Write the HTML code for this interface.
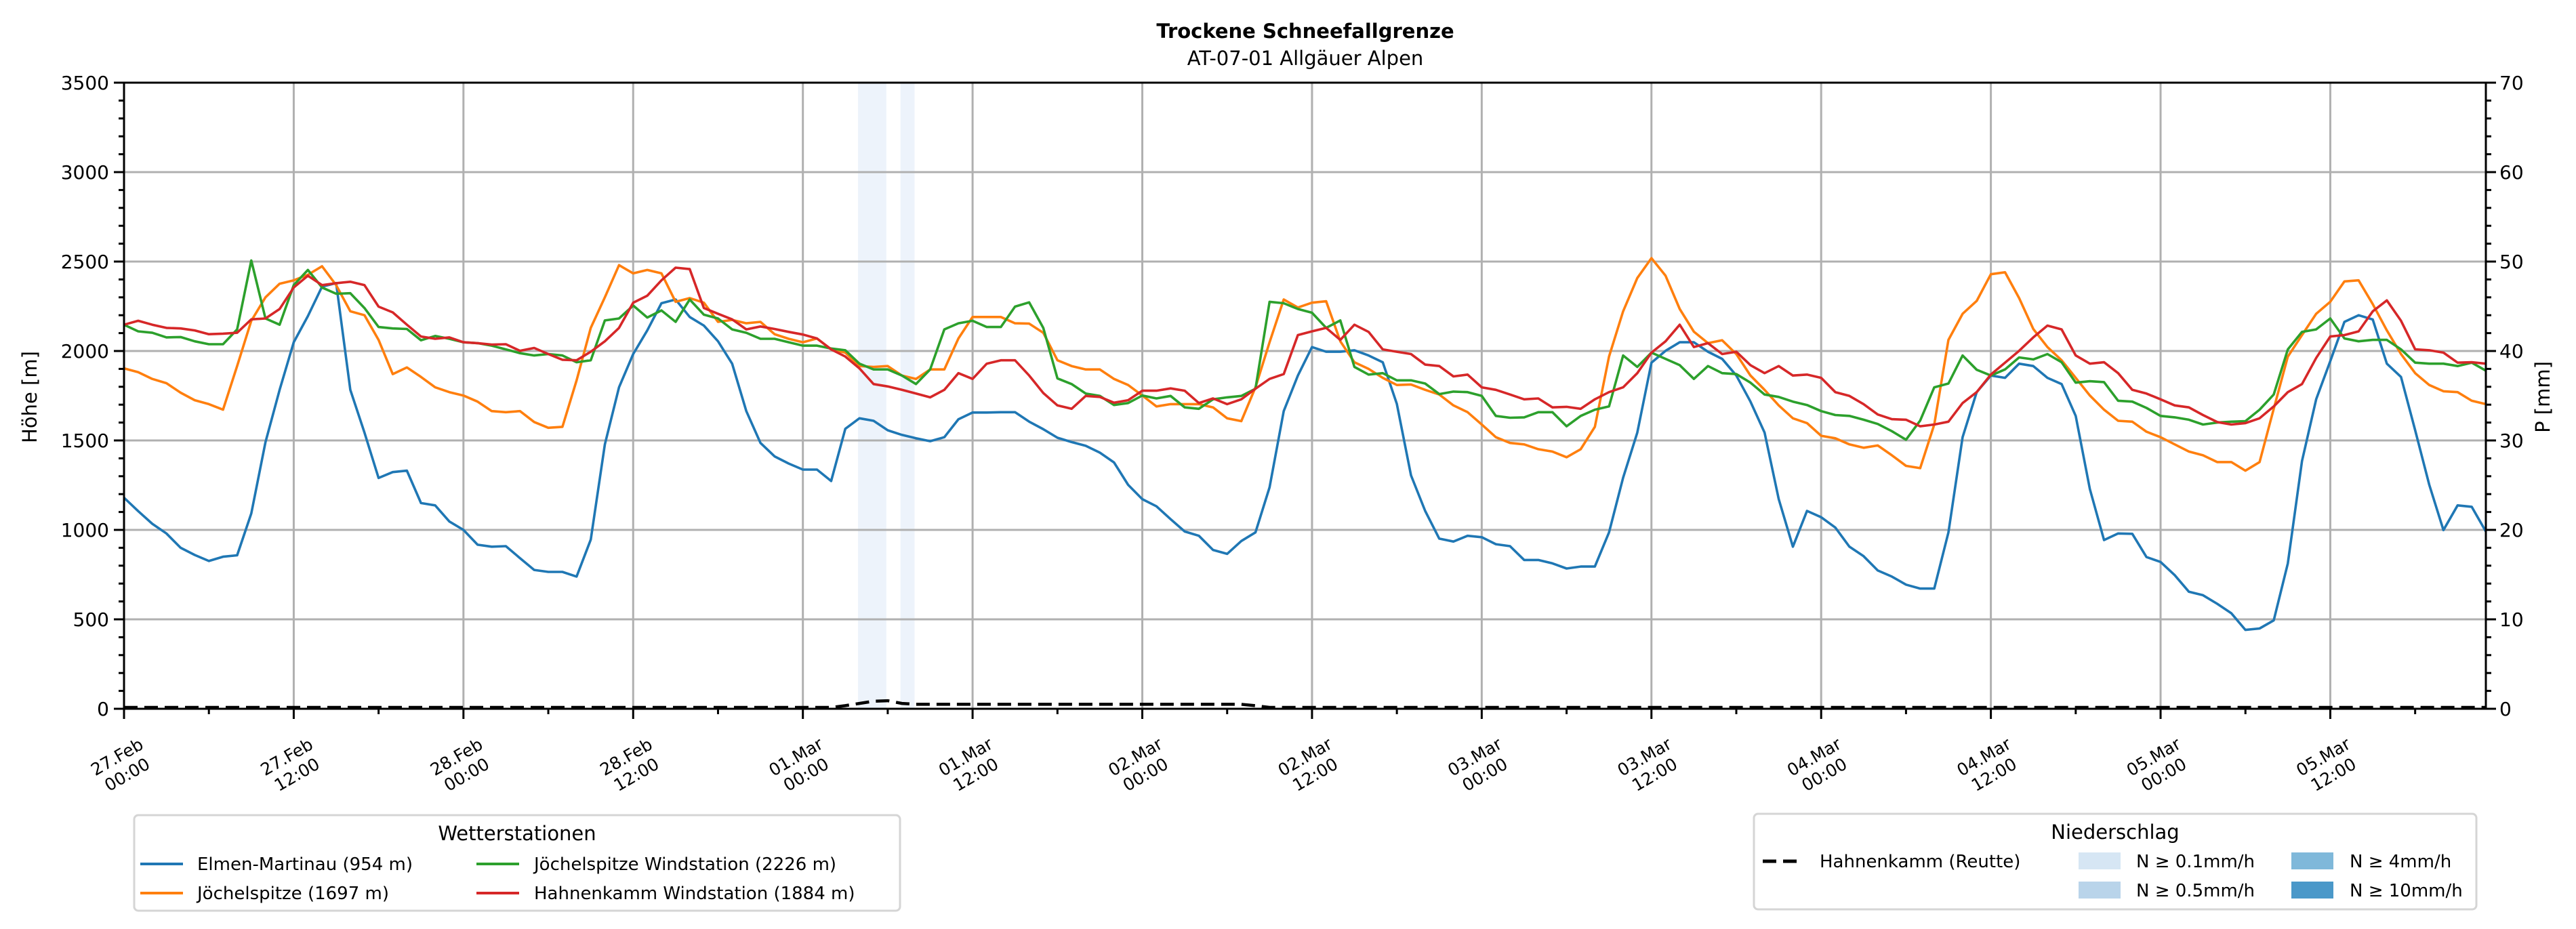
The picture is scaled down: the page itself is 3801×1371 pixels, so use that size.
<!DOCTYPE html>
<html><head><meta charset="utf-8">
<style>
html,body{margin:0;padding:0;background:#fff;}
svg{display:block;font-family:"DejaVu Sans","Liberation Sans",sans-serif;}
</style></head>
<body>
<svg id="chart" xmlns="http://www.w3.org/2000/svg" width="3801" height="1371" viewBox="0 0 3801 1371">
<rect x="0" y="0" width="3801" height="1371" fill="#fff"/>
<text x="1926" y="56" text-anchor="middle" font-size="29" font-weight="bold">Trockene Schneefallgrenze</text>
<text x="1926" y="96" text-anchor="middle" font-size="29">AT-07-01 Allgäuer Alpen</text>
<g id="shades"></g>
<g id="grid"></g>
<g id="series"></g>
<g id="axes"></g>
<text transform="translate(46,586) rotate(-90)" text-anchor="middle" font-size="29" dominant-baseline="middle">Höhe [m]</text>
<text transform="translate(3754,586) rotate(-90)" text-anchor="middle" font-size="29" dominant-baseline="middle">P [mm]</text>

<g>
<rect x="198" y="1203" width="1130" height="141" rx="6" fill="#fff" stroke="#d5d5d5" stroke-width="3"/>
<text x="763" y="1240" text-anchor="middle" font-size="29">Wetterstationen</text>
<line x1="207" y1="1275" x2="270" y2="1275" stroke="#1f77b4" stroke-width="4"/>
<text x="291" y="1284" font-size="26">Elmen-Martinau (954 m)</text>
<line x1="207" y1="1318" x2="270" y2="1318" stroke="#ff7f0e" stroke-width="4"/>
<text x="291" y="1327" font-size="26">Jöchelspitze (1697 m)</text>
<line x1="703" y1="1275" x2="766" y2="1275" stroke="#2ca02c" stroke-width="4"/>
<text x="788" y="1284" font-size="26">Jöchelspitze Windstation (2226 m)</text>
<line x1="703" y1="1318" x2="766" y2="1318" stroke="#d62728" stroke-width="4"/>
<text x="788" y="1327" font-size="26">Hahnenkamm Windstation (1884 m)</text>
</g>

<g>
<rect x="2588" y="1201" width="1066" height="141" rx="6" fill="#fff" stroke="#d5d5d5" stroke-width="3"/>
<text x="3121" y="1238" text-anchor="middle" font-size="29">Niederschlag</text>
<line x1="2601" y1="1271" x2="2657" y2="1271" stroke="#000" stroke-width="5" stroke-dasharray="20,10"/>
<text x="2685" y="1280" font-size="26">Hahnenkamm (Reutte)</text>
<rect x="3067" y="1258" width="62" height="25" fill="#d6e6f4"/>
<text x="3152" y="1280" font-size="26">N ≥ 0.1mm/h</text>
<rect x="3067" y="1301" width="62" height="25" fill="#b9d4ea"/>
<text x="3152" y="1323" font-size="26">N ≥ 0.5mm/h</text>
<rect x="3381" y="1258" width="62" height="25" fill="#7fb8da"/>
<text x="3467" y="1280" font-size="26">N ≥ 4mm/h</text>
<rect x="3381" y="1301" width="62" height="25" fill="#4a98c9"/>
<text x="3467" y="1323" font-size="26">N ≥ 10mm/h</text>
</g>
</svg>
<script>
const xTickLabels = ["27.Feb|00:00","27.Feb|12:00","28.Feb|00:00","28.Feb|12:00","01.Mar|00:00","01.Mar|12:00","02.Mar|00:00","02.Mar|12:00","03.Mar|00:00","03.Mar|12:00","04.Mar|00:00","04.Mar|12:00","05.Mar|00:00","05.Mar|12:00"];
const yTicks = [0,500,1000,1500,2000,2500,3000,3500];
const y2Ticks = [0,10,20,30,40,50,60,70];
const elmen = [1180,1105,1034,980,900,860,826,850,858,1092,
1490,1783,2049,2195,2360,2380,1783,1544,1290,1323,
1331,1150,1137,1047,1000,917,906,909,842,776,
765,765,739,946,1478,1797,1983,2115,2267,2288,
2190,2142,2054,1929,1664,1486,1411,1371,1337,1337,
1273,1565,1624,1610,1557,1531,1512,1496,1518,1618,
1656,1656,1658,1658,1605,1563,1515,1491,1470,1432,
1377,1252,1172,1132,1060,991,967,888,866,938,
986,1238,1664,1863,2022,1996,1996,2004,1975,1937,
1704,1305,1106,951,935,967,959,920,909,832,
832,813,784,795,795,986,1292,1544,1935,2001,
2049,2049,1996,1956,1863,1717,1544,1172,906,1106,
1071,1013,906,853,773,739,694,672,672,986,
1518,1770,1863,1850,1929,1916,1850,1815,1637,1228,
943,980,978,848,821,747,654,635,587,534,
441,449,494,813,1385,1730,1943,2163,2200,2176,
1929,1855,1557,1252,999,1137,1129,991];
const joechel = [1903,1882,1844,1820,1767,1725,1703,1672,1916,2169,
2300,2376,2395,2426,2474,2368,2222,2200,2062,1871,
1908,1855,1797,1770,1751,1717,1664,1658,1664,1603,
1571,1576,1836,2129,2300,2480,2434,2453,2434,2275,
2296,2270,2163,2174,2155,2163,2094,2068,2049,2070,
2009,1991,1916,1911,1916,1863,1844,1897,1897,2070,
2190,2190,2190,2155,2153,2102,1948,1916,1897,1897,
1844,1810,1751,1690,1703,1703,1703,1685,1624,1608,
1797,2049,2288,2243,2270,2278,2054,1937,1900,1850,
1810,1813,1783,1757,1696,1658,1589,1518,1486,1478,
1451,1438,1406,1451,1576,1969,2222,2408,2519,2421,
2235,2108,2044,2060,1983,1863,1783,1696,1624,1597,
1526,1512,1478,1459,1472,1417,1358,1345,1589,2062,
2208,2280,2429,2440,2296,2123,2022,1948,1850,1751,
1672,1610,1605,1549,1518,1478,1438,1417,1379,1379,
1331,1379,1677,1969,2089,2208,2275,2389,2395,2262,
2115,1983,1876,1810,1775,1770,1722,1703];
const joechelWind = [2147,2110,2102,2076,2078,2054,2038,2038,2121,2506,
2182,2147,2368,2453,2355,2320,2323,2240,2134,2126,
2123,2060,2084,2068,2049,2044,2030,2009,1988,1975,
1983,1975,1937,1948,2171,2182,2254,2187,2227,2163,
2288,2203,2182,2121,2102,2068,2068,2049,2030,2030,
2014,2004,1929,1897,1897,1863,1815,1897,2121,2155,
2169,2134,2134,2248,2272,2129,1847,1815,1762,1749,
1698,1709,1751,1735,1749,1685,1677,1730,1741,1749,
1789,2275,2267,2235,2214,2129,2171,1911,1868,1876,
1836,1836,1818,1759,1773,1770,1749,1637,1627,1629,
1658,1658,1579,1637,1672,1690,1975,1911,1991,1956,
1921,1844,1916,1876,1871,1823,1757,1743,1717,1698,
1664,1642,1637,1616,1592,1552,1504,1611,1797,1818,
1975,1895,1863,1897,1964,1953,1983,1937,1823,1831,
1826,1722,1717,1682,1637,1629,1616,1589,1600,1605,
1608,1672,1757,2009,2107,2121,2182,2070,2054,2062,
2062,2009,1935,1929,1929,1916,1935,1890];
const hahnenWind = [2147,2169,2147,2129,2126,2115,2094,2097,2102,2177,
2182,2235,2355,2421,2368,2379,2387,2368,2248,2216,
2147,2081,2068,2076,2049,2044,2036,2038,2001,2017,
1983,1951,1948,1996,2054,2129,2270,2309,2395,2466,
2458,2240,2208,2177,2121,2137,2123,2107,2092,2070,
2009,1969,1903,1815,1802,1783,1762,1741,1783,1876,
1844,1929,1948,1948,1863,1765,1696,1677,1749,1743,
1711,1725,1778,1778,1791,1778,1709,1735,1703,1730,
1789,1844,1871,2089,2110,2129,2062,2147,2107,2009,
1996,1983,1924,1916,1858,1868,1797,1783,1757,1730,
1735,1685,1688,1677,1730,1770,1797,1876,1991,2054,
2147,2022,2044,1983,1996,1921,1876,1916,1863,1868,
1850,1770,1749,1703,1645,1619,1616,1579,1589,1605,
1709,1770,1868,1935,2001,2076,2142,2121,1975,1929,
1937,1876,1783,1762,1730,1696,1685,1642,1603,1589,
1597,1624,1690,1770,1815,1961,2081,2089,2110,2222,
2283,2169,2009,2004,1991,1935,1937,1929];
const precipValues = [0,0,0,0,0,0,0,0,0,0, 0,0,0,0,0,0,0,0,0,0,
0,0,0,0,0,0,0,0,0,0, 0,0,0,0,0,0,0,0,0,0,
0,0,0,0,0,0,0,0,0,0, 0,0.2,0.45,0.7,0.75,0.45,0.35,0.35,0.35,0.35,
0.35,0.35,0.35,0.35,0.35,0.35,0.35,0.35,0.35,0.35, 0.35,0.35,0.35,0.35,0.35,0.35,0.35,0.35,0.35,0.35,
0.2,0,0,0,0,0,0,0,0,0];
const shadeStart = [51.9, 54.9];
const shadeEnd = [53.9, 55.9];

const NS = "http://www.w3.org/2000/svg";
const L = 183, R = 3668, T = 122, B = 1046, XMAX = 167;
function xs(h){ return L + h*(R-L)/XMAX; }
function ys(v){ return B - v/3500*(B-T); }
function y2s(v){ return B - v/70*(B-T); }
function mk(tag, attrs, parent){ const e=document.createElementNS(NS,tag); for(const k in attrs) e.setAttribute(k,attrs[k]); parent.appendChild(e); return e; }
const gShade=document.getElementById('shades'), gGrid=document.getElementById('grid'), gSer=document.getElementById('series'), gAx=document.getElementById('axes');

shadeStart.forEach((s,i)=>{
  const r=mk('rect',{x:xs(s),y:T,width:xs(shadeEnd[i])-xs(s),height:B-T,fill:'#edf3fb'},gShade);
  
  
});
xTickLabels.forEach((lab,i)=>{
  const x=xs(i*12);
  const g=mk('line',{x1:x,y1:T,x2:x,y2:B,stroke:'#b0b0b0','stroke-width':3},gGrid);
  
  
});
yTicks.forEach(v=>{
  const y=ys(v);
  const g=mk('line',{x1:L,y1:y,x2:R,y2:y,stroke:'#b0b0b0','stroke-width':3},gGrid);
  
  
});
function drawLine(arr,color,name){
  const pts=arr.map((v,i)=>xs(i).toFixed(1)+','+ys(v).toFixed(1)).join(' ');
  const p=mk('polyline',{points:pts,fill:'none',stroke:color,'stroke-width':3.6,'stroke-linejoin':'round'},gSer);
  
  
}
drawLine(elmen,'#1f77b4','line-elmen-martinau');
drawLine(joechel,'#ff7f0e','line-joechelspitze');
drawLine(joechelWind,'#2ca02c','line-joechelspitze-windstation');
drawLine(hahnenWind,'#d62728','line-hahnenkamm-windstation');
const full=[]; for(let i=0;i<=XMAX;i++) full.push(i<precipValues.length?precipValues[i]:0);
const pp=mk('polyline',{points:full.map((v,i)=>xs(i).toFixed(1)+','+(y2s(v)-2).toFixed(1)).join(' '),fill:'none',stroke:'#000','stroke-width':4.5,'stroke-dasharray':'20,10'},gSer);



const frame=mk('rect',{x:L,y:T,width:R-L,height:B-T,fill:'none',stroke:'#000','stroke-width':3},gAx);


for(let v=0; v<=3500; v+=100){
  const maj=v%500===0, y=ys(v);
  const t=mk('line',{x1:L-(maj?15:8),y1:y,x2:L,y2:y,stroke:'#000','stroke-width':3},gAx);
  
  
}
yTicks.forEach(v=>{
  const t=mk('text',{x:L-22,y:ys(v)+10,'text-anchor':'end','font-size':28},gAx);
  t.textContent=v;
  
  
});
for(let v=0; v<=70; v+=2){
  const maj=v%10===0, y=y2s(v);
  const t=mk('line',{x1:R,y1:y,x2:R+(maj?15:8),y2:y,stroke:'#000','stroke-width':3},gAx);
  
  
}
y2Ticks.forEach(v=>{
  const t=mk('text',{x:R+20,y:y2s(v)+10,'font-size':28},gAx);
  t.textContent=v;
  
  
});
for(let h=0; h<=XMAX; h+=6){
  const maj=h%12===0, x=xs(h);
  const t=mk('line',{x1:x,y1:B,x2:x,y2:B+(maj?15:8),stroke:'#000','stroke-width':3},gAx);
  
  
}
xTickLabels.forEach((lab,i)=>{
  const x=xs(i*12)-4, parts=lab.split('|');
  const t=mk('text',{transform:'translate('+x+',1128) rotate(-30)','text-anchor':'middle','font-size':25},gAx);
  
  
  const a=mk('tspan',{x:0,y:-4},t); a.textContent=parts[0];
  const b=mk('tspan',{x:0,y:26},t); b.textContent=parts[1];
});
</script>
</body></html>
